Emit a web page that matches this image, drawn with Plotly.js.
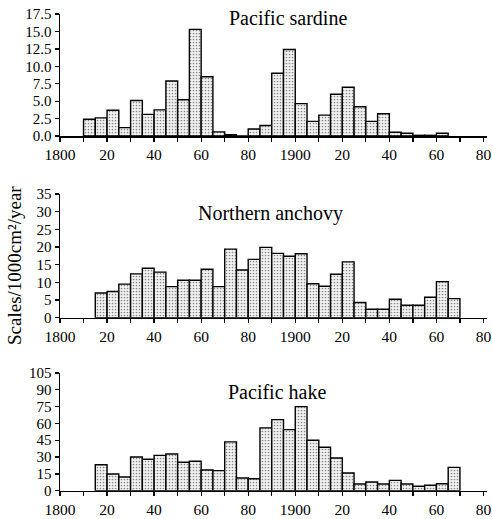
<!DOCTYPE html>
<html>
<head>
<meta charset="utf-8">
<script src="https://cdn.plot.ly/plotly-3.0.1.min.js"></script>
<style>html,body{margin:0;padding:0;background:#fff;}#chart{width:492px;height:519px;}</style>
</head>
<body>
<div id="chart"></div>
<script>
// Bin start years (5-year bins)
const sardineYears = [1810,1815,1820,1825,1830,1835,1840,1845,1850,1855,1860,1865,1870,1875,1880,1885,1890,1895,1900,1905,1910,1915,1920,1925,1930,1935,1940,1945,1950,1955,1960];
const sardineValues = [2.4,2.6,3.7,1.2,5.1,3.1,3.75,7.9,5.2,15.3,8.5,0.6,0.2,0,1.0,1.5,9.0,12.4,4.65,2.1,3.0,6.0,7.0,4.2,2.1,3.2,0.55,0.4,0.1,0.1,0.4];

const anchovyYears = [1815,1820,1825,1830,1835,1840,1845,1850,1855,1860,1865,1870,1875,1880,1885,1890,1895,1900,1905,1910,1915,1920,1925,1930,1935,1940,1945,1950,1955,1960,1965];
const anchovyValues = [7.0,7.4,9.5,12.4,14.0,12.9,8.8,10.6,10.6,13.7,8.8,19.4,13.5,16.5,19.9,18.2,17.4,18.1,9.6,8.9,12.3,15.8,4.3,2.4,2.4,5.2,3.5,3.5,5.8,10.2,5.4];

const hakeYears = [1815,1820,1825,1830,1835,1840,1845,1850,1855,1860,1865,1870,1875,1880,1885,1890,1895,1900,1905,1910,1915,1920,1925,1930,1935,1940,1945,1950,1955,1960,1965];
const hakeValues = [23.2,14.9,12.2,30.1,28.0,31.5,32.7,25.3,26.2,18.5,17.9,43.5,11.3,10.7,56.0,63.4,54.5,75.0,45.0,38.7,29.2,15.8,6.0,7.7,6.0,9.2,6.0,3.9,4.8,6.2,20.8];

const titles = ["Pacific sardine", "Northern anchovy", "Pacific hake"];
const xTickVals = [1800,1810,1820,1830,1840,1850,1860,1870,1880,1890,1900,1910,1920,1930,1940,1950,1960,1970,1980];
const xTickText = ["1800","","20","","40","","60","","80","","1900","","20","","40","","60","","80"];
const sardineTicks = [0,2.5,5,7.5,10,12.5,15,17.5];
const anchovyTicks = [0,5,10,15,20,25,30,35];
const hakeTicks = [0,15,30,45,60,75,90,105];
const yTitle = "Scales/1000cm²/year";

const binWidth = 5;
const FONT = "Liberation Serif, Times New Roman, serif";

function barTrace(years, values, xa, ya) {
  return {
    type: "bar",
    x: years.map(y => y + binWidth / 2),
    y: values,
    width: binWidth,
    xaxis: xa, yaxis: ya,
    marker: {
      color: "#e8e8e8",
      line: {color: "#000", width: 1.4},
      pattern: {shape: ".", fgcolor: "#888", bgcolor: "#f4f4f4", size: 3, solidity: 0.25}
    },
    hoverinfo: "skip",
    showlegend: false
  };
}

const data = [
  barTrace(sardineYears, sardineValues, "x", "y"),
  barTrace(anchovyYears, anchovyValues, "x2", "y2"),
  barTrace(hakeYears, hakeValues, "x3", "y3")
];

function xAxis(anchor) {
  return {
    anchor: anchor, domain: [0, 1], range: [1800, 1981.5],
    tickmode: "array", tickvals: xTickVals, ticktext: xTickText,
    ticks: "outside", ticklen: 4, tickwidth: 1.3, tickcolor: "#000",
    showline: true, linecolor: "#000", linewidth: 1.8,
    showgrid: false, zeroline: false,
    tickfont: {family: FONT, size: 15.5, color: "#000"}
  };
}
function yAxis(anchor, domain, range, ticks, fmt) {
  return {
    anchor: anchor, domain: domain, range: range,
    tickmode: "array", tickvals: ticks,
    ticktext: ticks.map(v => fmt ? v.toFixed(1) : String(v)),
    ticks: "outside", ticklen: 4, tickwidth: 1.3, tickcolor: "#000",
    showline: true, linecolor: "#000", linewidth: 1.5,
    showgrid: false, zeroline: false,
    tickfont: {family: FONT, size: 15, color: "#000"}
  };
}

const layout = {
  width: 492, height: 519,
  margin: {l: 60, r: 5, t: 10, b: 20},
  paper_bgcolor: "#fff", plot_bgcolor: "rgba(0,0,0,0)",
  bargap: 0,
  xaxis: xAxis("y"),
  xaxis2: xAxis("y2"),
  xaxis3: xAxis("y3"),
  yaxis: yAxis("x", [0.7423, 0.9918], [0, 17.5], sardineTicks, true),
  yaxis2: yAxis("x2", [0.3708, 0.6237], [0, 35], anchovyTicks, false),
  yaxis3: yAxis("x3", [0.0170, 0.2577], [0, 105], hakeTicks, false),
  annotations: [
    {text: titles[0], xref: "paper", yref: "paper", x: (288-60)/427, y: (499-18)/489, showarrow: false, xanchor: "center", yanchor: "middle", font: {family: FONT, size: 20, color: "#000"}},
    {text: titles[1], xref: "paper", yref: "paper", x: (270-60)/427, y: (499-213)/489, showarrow: false, xanchor: "center", yanchor: "middle", font: {family: FONT, size: 20, color: "#000"}},
    {text: titles[2], xref: "paper", yref: "paper", x: (277-60)/427, y: (499-392)/489, showarrow: false, xanchor: "center", yanchor: "middle", font: {family: FONT, size: 20, color: "#000"}},
    {text: yTitle, xref: "paper", yref: "paper", x: (14-60)/427, y: (499-266)/489, showarrow: false, textangle: -90, xanchor: "center", yanchor: "middle", font: {family: FONT, size: 19, color: "#000"}}
  ]
};

Plotly.newPlot("chart", data, layout, {displayModeBar: false, staticPlot: true});
</script>
</body>
</html>
